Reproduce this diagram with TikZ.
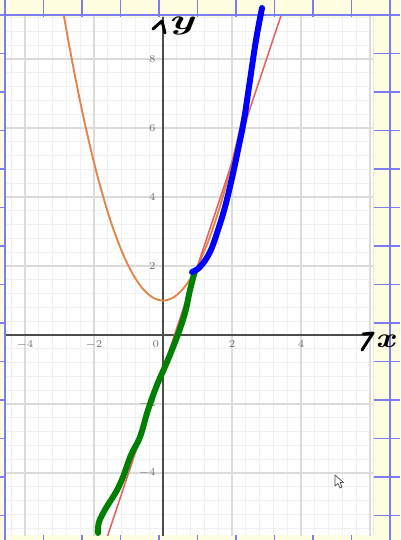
\documentclass[tikz,border=0pt]{standalone}
\usepackage{tikz}
\usetikzlibrary{calc,positioning}
\definecolor{paperyellow}{HTML}{FFFDDF}
\definecolor{paperblue}{HTML}{7C7CF4}
\definecolor{parabolaorange}{HTML}{E2874A}
\definecolor{secantred}{HTML}{E06666}
\definecolor{inkgreen}{HTML}{008000}

\begin{document}
\begin{tikzpicture}[x=0.02cm, y=-0.02cm,
    paperline/.style={paperblue, line width=0.8pt},
    minorgrid/.style={black!6, line width=0.5pt},
    majorgrid/.style={black!14, line width=0.8pt},
    axisline/.style={black!70, line width=0.7pt},
    ticklabel/.style={text=black!55, font=\sffamily\fontsize{6}{7}\selectfont, inner sep=1pt},
    ink/.style={line width=3.4pt, line cap=round, line join=round},
    scrawl/.style={line width=1.7pt, line cap=round, line join=round},
    handtext/.style={font=\bfseries\itshape\fontsize{16}{16}\selectfont, inner sep=0pt}]
    \useasboundingbox (0,0) rectangle (400,540);

    % Paper
    \fill [paperyellow] (0,0) rectangle (400,540);
    \foreach \i in {0,...,10}
        \draw [paperline] ({5+38.5*\i},0) -- ({5+38.5*\i},540);
    \foreach \j in {0,...,13}
        \draw [paperline] (0,{15+38.5*\j}) -- (400,{15+38.5*\j});
    \fill [white] (6,17) rectangle (373,535);
    \draw [black!10, line width=0.5pt] (373,17) -- (373,535);

    % Graph window
    \begin{scope}[shift={(163,335)}, x=0.69cm, y=0.69cm]
        \clip (-4.55,-5.82) rectangle (6.08,9.22);
        \draw [minorgrid, step=0.4] (-4.8,-6) grid (6.4,9.6);
        \draw [majorgrid, step=2] (-4.8,-6) grid (6.4,9.6);
        \draw [axisline] (-4.55,0) -- (6.08,0);
        \draw [axisline] (0,-5.82) -- (0,9.22);
        \foreach \x [count=\i] in {-4,-2,2,4}
            \node [ticklabel, below=2pt] (xtick\i) at (\x,0) {$\x$};
        \node [ticklabel, below left=2pt and 1pt] (origin) at (0,0) {$0$};
        \foreach \y [count=\i] in {-4,-2,2,4,6,8}
            \node [ticklabel, left=3pt] (ytick\i) at (0,\y) {$\y$};
        \draw [parabolaorange, line width=1.1pt] plot [domain=-3:3, samples=100] (\x,{\x*\x+1});
        \draw [secantred, line width=0.9pt] plot [domain=-1.7:3.5] (\x,{3*\x-1});
    \end{scope}

    % Hand drawn pieces
    \draw [ink, inkgreen] plot [smooth, tension=0.6] coordinates {(195,271) (190,290) (185,313)
        (177,337) (167,362) (157,385) (148,410) (140,437) (131,455) (123,477) (116,492)
        (106,508) (99,522) (98,533)};
    \draw [ink, blue] plot [smooth, tension=0.6] coordinates {(192,272) (200,267) (210,252)
        (218,230) (225,207) (232,178) (238,150) (244,120) (250,80) (256,40) (262,8)};

    % Axis names
    \draw [scrawl] (153,29) -- (162,21) -- (165,33);
    \node [handtext, xscale=1.6] (yname) at (181,26) {y};
    \draw [scrawl] (363,334) -- (373,333) -- (362,350);
    \node [handtext, xscale=1.2] (xname) at (385,341) {x};

    % Cursor
    \draw [black!70, fill=white, line width=0.4pt, line join=round]
        (335,475) -- (335,486) -- (338,483.5) -- (340,488) -- (342,487) -- (340,482.5) -- (343.5,482.5) -- cycle;
\end{tikzpicture}
\end{document}
